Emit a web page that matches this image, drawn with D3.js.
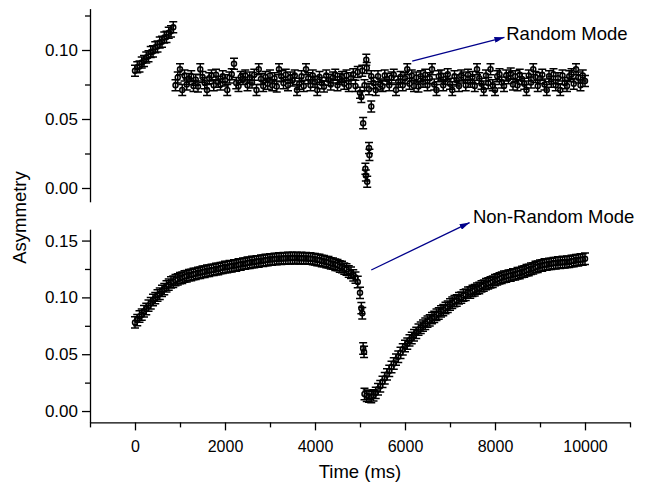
<!DOCTYPE html>
<html>
<head>
<meta charset="utf-8">
<script src="https://cdn.jsdelivr.net/npm/d3@7"></script>
<style>
  body { margin: 0; background: #fff; }
  text { font-family: Arial, "Liberation Sans", sans-serif; fill: #000; }
</style>
</head>
<body>
<script>
// asymmetry vs time, two modes
// sampling step of the measured time axis (ms)
var step = 50;

// top panel (random mode): first rising run, 0..850 ms
var topRiseStart = 0;
var topRiseVal = [.0850, .0875, .0880, .0910, .0920, .0945, .0955, .0985, .0990, .1020,
                  .1025, .1055, .1060, .1090, .1095, .1125, .1135, .1165];

// top panel: flat run, 900..10000 ms
var topFlatStart = 900;
var topFlatVal = [
  .0745, .0800, .0860, .0710, .0815, .0750, .0790, .0810, .0740, .0785,
  .0735, .0860, .0805, .0760, .0710, .0795, .0815, .0745, .0820, .0770,
  .0750, .0810, .0780, .0710, .0800, .0825, .0900, .0760, .0740, .0805,
  .0790, .0815, .0745, .0800, .0765, .0820, .0710, .0860, .0790, .0740,
  .0805, .0755, .0815, .0745, .0795, .0735, .0860, .0810, .0760, .0820,
  .0745, .0800, .0780, .0815, .0710, .0755, .0810, .0740, .0860, .0795,
  .0745, .0815, .0770, .0710, .0805, .0760, .0735, .0815, .0785, .0750,
  .0800, .0820, .0745, .0790, .0805, .0755, .0815, .0740, .0795, .0825,
  .0740, .0840, .0690, .0850, .0745, .0870, .0715, .0810, .0760, .0710,
  .0810, .0750, .0740, .0815, .0790, .0745, .0800, .0820, .0710, .0770,
  .0805, .0745, .0795, .0860, .0755, .0815, .0740, .0800, .0735, .0810,
  .0770, .0820, .0745, .0795, .0860, .0750, .0710, .0810, .0815, .0745,
  .0790, .0825, .0755, .0710, .0810, .0780, .0740, .0815, .0800, .0745,
  .0820, .0770, .0805, .0740, .0860, .0795, .0755, .0710, .0815, .0760,
  .0860, .0745, .0710, .0810, .0825, .0765, .0740, .0815, .0795, .0830,
  .0750, .0810, .0745, .0820, .0790, .0755, .0710, .0815, .0765, .0860,
  .0805, .0740, .0795, .0820, .0750, .0710, .0810, .0770, .0825, .0745,
  .0795, .0710, .0815, .0760, .0740, .0810, .0825, .0755, .0860, .0800,
  .0745, .0815, .0775];

// top panel: the dip points near 5 s
var topDipTime = [5030, 5070, 5120, 5130, 5140, 5160, 5200, 5210, 5250];
var topDipVal = [.0660, .0470, .0140, .0090, .0930, .0046, .0290, .0240, .0590];

// bottom panel (non-random mode): run up to the drop, 0..5000 ms
var botRiseStart = 0;
var botRiseVal = [
  .0780, .0800, .0832, .0848, .0878, .0898, .0927, .0948, .0977, .0993,
  .1017, .1032, .1057, .1073, .1097, .1112, .1132, .1138, .1152, .1158,
  .1170, .1173, .1184, .1186, .1196, .1197, .1206, .1207, .1216, .1217,
  .1226, .1226, .1234, .1234, .1242, .1242, .1250, .1250, .1258, .1260,
  .1267, .1266, .1274, .1273, .1281, .1281, .1289, .1289, .1297, .1297,
  .1305, .1304, .1311, .1310, .1317, .1316, .1323, .1322, .1329, .1328,
  .1335, .1333, .1339, .1337, .1343, .1340, .1345, .1342, .1347, .1344,
  .1348, .1344, .1348, .1343, .1347, .1343, .1345, .1341, .1343, .1337,
  .1336, .1329, .1329, .1320, .1319, .1310, .1309, .1299, .1297, .1287,
  .1284, .1272, .1267, .1253, .1245, .1228, .1217, .1194, .1174, .1135,
  .1040];

// bottom panel: the fast drop
var botDipTime = [5030, 5050, 5070, 5090];
var botDipVal = [.0905, .0860, .0550, .0520];

// bottom panel: recovery, 5100..10000 ms
var botRecStart = 5100;
var botRecVal = [
  .0150, .0135, .0128, .0124, .0138, .0160, .0192, .0218, .0257, .0288,
  .0322, .0353, .0387, .0418, .0452, .0478, .0512, .0543, .0572, .0593,
  .0622, .0643, .0667, .0688, .0716, .0733, .0752, .0768, .0787, .0798,
  .0817, .0828, .0847, .0858, .0877, .0888, .0907, .0918, .0937, .0953,
  .0967, .0973, .0992, .0998, .1017, .1023, .1042, .1043, .1057, .1063,
  .1077, .1083, .1097, .1103, .1117, .1123, .1132, .1138, .1152, .1158,
  .1167, .1173, .1182, .1183, .1192, .1193, .1202, .1203, .1212, .1213,
  .1224, .1228, .1239, .1241, .1252, .1255, .1267, .1270, .1280, .1281,
  .1289, .1288, .1295, .1295, .1302, .1300, .1307, .1305, .1311, .1308,
  .1314, .1312, .1320, .1320, .1328, .1327, .1334, .1333, .1340];

// error bar half widths
var topErr = 0.004;
var botErr = 0.005;

// axis ticks
var xMajor = [0, 2000, 4000, 6000, 8000, 10000];
var xMinor = [-1000, 1000, 3000, 5000, 7000, 9000, 11000];
var topMajor = [0, 0.05, 0.10];
var botMajor = [0, 0.05, 0.10, 0.15];
var yMinor = [0.025, 0.075, 0.125];

// annotations [time, asymmetry]
var randFrom = [6160, 0.092], randTo = [8210, 0.1092];
var nonFrom = [5250, 0.1241], nonTo = [7436, 0.1658];

var w = 648;
var h = 485;

var svg = d3.select("body")
            .append("svg")
            .attr("width", w)
            .attr("height", h);

// scales
var x = d3.scaleLinear().domain([-1000, 11000]).range([90, 630]);
var yTop = d3.scaleLinear().domain([-0.01, 0.13]).range([201.8, 8.6]);
var yBot = d3.scaleLinear().domain([-0.01, 0.16]).range([422.4, 229.2]);

function toPoints(start, vals) {
  return vals.map(function(v, i) { return {t: start + i * step, v: v}; });
}
function pairs(ts, vals) {
  return ts.map(function(t, i) { return {t: t, v: vals[i]}; });
}

function drawPoints(data, yScale, err) {
  var g = svg.append("g");
  var pt = g.selectAll("g")
            .data(data)
            .enter()
            .append("g");
  // error bar with caps
  pt.append("path")
    .attr("d", function(d) {
      var cx = x(d.t), y1 = yScale(d.v + err), y2 = yScale(d.v - err);
      return "M" + cx + "," + y1 + "V" + y2 +
             "M" + (cx - 4) + "," + y1 + "H" + (cx + 4) +
             "M" + (cx - 4) + "," + y2 + "H" + (cx + 4);
    })
    .attr("fill", "none")
    .attr("stroke", "#000")
    .attr("stroke-width", 1.5);
  // open circle marker
  pt.append("circle")
    .attr("cx", function(d) { return x(d.t); })
    .attr("cy", function(d) { return yScale(d.v); })
    .attr("r", 2.5)
    .attr("fill", "none")
    .attr("stroke", "#000")
    .attr("stroke-width", 1.5);
}

drawPoints(toPoints(topRiseStart, topRiseVal), yTop, topErr);
drawPoints(toPoints(topFlatStart, topFlatVal), yTop, topErr);
drawPoints(pairs(topDipTime, topDipVal), yTop, topErr);
drawPoints(toPoints(botRiseStart, botRiseVal), yBot, botErr);
drawPoints(pairs(botDipTime, botDipVal), yBot, botErr);
drawPoints(toPoints(botRecStart, botRecVal), yBot, botErr);

// axes
function styleAxis(g, size) {
  g.selectAll("path, line").attr("stroke", "#000").attr("stroke-width", 1.3);
  g.selectAll("text").style("font-size", size + "px");
}

function yAxis(scale, major) {
  var g = svg.append("g")
             .attr("transform", "translate(" + x.range()[0] + ",0)")
             .call(d3.axisLeft(scale).tickValues(major)
                     .tickFormat(d3.format(".2f"))
                     .tickSizeInner(8).tickSizeOuter(0).tickPadding(4));
  styleAxis(g, 17);
  var m = svg.append("g")
             .attr("transform", "translate(" + x.range()[0] + ",0)")
             .call(d3.axisLeft(scale).tickValues(yMinor).tickFormat("")
                     .tickSizeInner(5).tickSizeOuter(0));
  m.select(".domain").remove();
  styleAxis(m, 17);
}
yAxis(yTop, topMajor);
yAxis(yBot, botMajor);

var xg = svg.append("g")
            .attr("transform", "translate(0," + yBot.range()[0] + ")")
            .call(d3.axisBottom(x).tickValues(xMajor).tickFormat(d3.format("d"))
                    .tickSizeInner(8).tickSizeOuter(0).tickPadding(10));
styleAxis(xg, 16);
var xm = svg.append("g")
            .attr("transform", "translate(0," + yBot.range()[0] + ")")
            .call(d3.axisBottom(x).tickValues(xMinor).tickFormat("")
                    .tickSizeInner(5).tickSizeOuter(0));
xm.select(".domain").remove();
styleAxis(xm, 16);

// axis titles
svg.append("text")
   .attr("x", 360)
   .attr("y", 478)
   .attr("text-anchor", "middle")
   .style("font-size", "18.5px")
   .text("Time (ms)");

svg.append("text")
   .attr("transform", "translate(26,217.5) rotate(-90)")
   .attr("text-anchor", "middle")
   .style("font-size", "18.5px")
   .text("Asymmetry");

// arrows and mode labels
svg.append("defs")
   .append("marker")
   .attr("id", "head")
   .attr("viewBox", "0 0 10 6")
   .attr("refX", 10)
   .attr("refY", 3)
   .attr("markerWidth", 10)
   .attr("markerHeight", 6)
   .attr("markerUnits", "userSpaceOnUse")
   .attr("orient", "auto")
   .append("path")
   .attr("d", "M0,0L10,3L0,6Z")
   .attr("fill", "#00008b");

svg.append("line")
   .attr("x1", x(randFrom[0])).attr("y1", yTop(randFrom[1]))
   .attr("x2", x(randTo[0])).attr("y2", yTop(randTo[1]))
   .attr("stroke", "#00008b").attr("stroke-width", 1.3)
   .attr("marker-end", "url(#head)");

svg.append("line")
   .attr("x1", x(nonFrom[0])).attr("y1", yBot(nonFrom[1]))
   .attr("x2", x(nonTo[0])).attr("y2", yBot(nonTo[1]))
   .attr("stroke", "#00008b").attr("stroke-width", 1.3)
   .attr("marker-end", "url(#head)");

svg.append("text")
   .attr("x", x(8250))
   .attr("y", yTop(0.1072))
   .style("font-size", "18.5px")
   .text("Random Mode");

svg.append("text")
   .attr("x", x(7510))
   .attr("y", yBot(0.1652))
   .style("font-size", "18.5px")
   .text("Non-Random Mode");
</script>
</body>
</html>
